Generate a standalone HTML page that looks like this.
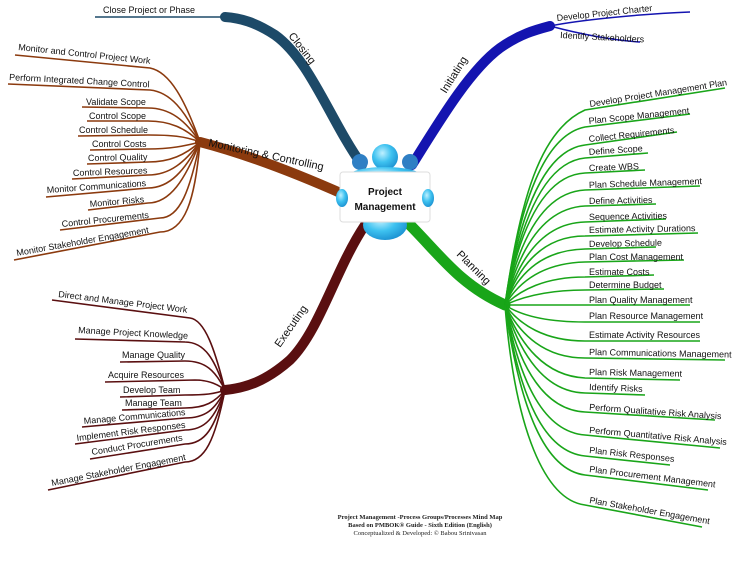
<!DOCTYPE html>
<html><head><meta charset="utf-8"><style>
html,body{margin:0;padding:0;background:#fff;}
svg{display:block;font-family:"Liberation Sans",sans-serif;}
.t{font-size:9px;fill:#111;}
.b{font-size:11px;fill:#111;}
</style></head><body>
<svg width="735" height="564" viewBox="0 0 735 564">
<defs>
<radialGradient id="g" cx="40%" cy="35%" r="70%"><stop offset="0" stop-color="#bff0ff"/><stop offset="0.5" stop-color="#3ec2f0"/><stop offset="1" stop-color="#1a8fd0"/></radialGradient>
</defs>
<path d="M362,165 C330,120 310,60 275,35 C255,22 240,18 225,17" stroke="#1d4a68" stroke-width="10" fill="none" stroke-linecap="round"/>
<path d="M225,17 L95,17" stroke="#1d4a68" stroke-width="1.5" fill="none"/>
<path d="M412,165 C440,120 470,70 500,48 C520,34 535,30 550,26" stroke="#1414b0" stroke-width="10" fill="none" stroke-linecap="round"/>
<path d="M550,26 C580,20 640,14 690,12" stroke="#1414b0" stroke-width="1.5" fill="none"/>
<path d="M550,26 C580,34 610,40 640,42" stroke="#1414b0" stroke-width="1.5" fill="none"/>
<path d="M345,195 C300,175 250,155 200,142" stroke="#8b3a0e" stroke-width="10" fill="none" stroke-linecap="round"/>
<path d="M365,225 C335,270 320,330 290,360 C265,382 245,388 225,390" stroke="#5a0f10" stroke-width="10" fill="none" stroke-linecap="round"/>
<path d="M410,225 C440,255 460,285 505,305" stroke="#19a519" stroke-width="11" fill="none" stroke-linecap="round"/>
<text class="b" transform="translate(288,36) rotate(52)">Closing</text>
<text class="b" transform="translate(446,94) rotate(-58)">Initiating</text>
<text class="b" transform="translate(208,146) rotate(12)">Monitoring &amp; Controlling</text>
<text class="b" transform="translate(280,348) rotate(-55)">Executing</text>
<text class="b" transform="translate(456,255) rotate(45)">Planning</text>
<text class="t" x="103" y="13">Close Project or Phase</text>
<text class="t" transform="translate(557,21) rotate(-6)">Develop Project Charter</text>
<text class="t" transform="translate(560,38) rotate(3)">Identify Stakeholders</text>
<g fill="none" stroke="#19a519" stroke-width="1.6">
<path d="M505,305 C520,200 540,130 585,110 L725,88"/>
<path d="M505,305 C520,200 545,135 585,127 L690,114"/>
<path d="M505,305 C520,210 545,150 585,145 L677,132"/>
<path d="M505,305 C520,220 545,162 585,158 L648,153"/>
<path d="M505,305 C520,225 545,175 585,173 L645,170"/>
<path d="M505,305 C520,235 545,192 585,190 L700,186"/>
<path d="M505,305 C520,245 545,208 585,206 L656,204"/>
<path d="M505,305 C520,255 545,223 585,222 L666,219"/>
<path d="M505,305 C520,262 545,236 585,236 L698,233"/>
<path d="M505,305 C520,270 545,250 585,249 L656,247"/>
<path d="M505,305 C520,280 545,263 585,262 L684,260"/>
<path d="M505,305 C520,290 545,277 585,277 L654,275"/>
<path d="M505,305 C520,298 545,290 585,290 L664,289"/>
<path d="M505,305 L690,305"/>
<path d="M505,305 C520,315 545,322 585,322 L700,322"/>
<path d="M505,305 C520,325 545,341 585,341 L700,341"/>
<path d="M505,305 C520,335 545,358 585,358 L725,360"/>
<path d="M505,305 C520,345 545,376 585,378 L680,380"/>
<path d="M505,305 C520,355 545,392 585,393 L645,395"/>
<path d="M505,305 C520,370 545,410 585,412 L715,420"/>
<path d="M505,305 C520,385 545,432 585,435 L720,448"/>
<path d="M505,305 C520,400 545,452 585,456 L670,465"/>
<path d="M505,305 C520,410 545,470 585,475 L708,490"/>
<path d="M505,305 C515,430 545,500 585,505 L702,527"/>
</g>
<g class="t">
<text transform="translate(590,107) rotate(-9)">Develop Project Management Plan</text>
<text transform="translate(589,124) rotate(-6)">Plan Scope Management</text>
<text transform="translate(589,142) rotate(-6)">Collect Requirements</text>
<text transform="translate(589,155) rotate(-4)">Define Scope</text>
<text transform="translate(589,171) rotate(-2)">Create WBS</text>
<text transform="translate(589,188) rotate(-2)">Plan Schedule Management</text>
<text transform="translate(589,204) rotate(-1)">Define Activities</text>
<text transform="translate(589,220) rotate(-1)">Sequence Activities</text>
<text transform="translate(589,233) rotate(-1)">Estimate Activity Durations</text>
<text transform="translate(589,247) rotate(-1)">Develop Schedule</text>
<text transform="translate(589,260)">Plan Cost Management</text>
<text transform="translate(589,275)">Estimate Costs</text>
<text transform="translate(589,288)">Determine Budget</text>
<text transform="translate(589,303)">Plan Quality Management</text>
<text transform="translate(589,319)">Plan Resource Management</text>
<text transform="translate(589,338)">Estimate Activity Resources</text>
<text transform="translate(589,355) rotate(1)">Plan Communications Management</text>
<text transform="translate(589,375) rotate(1)">Plan Risk Management</text>
<text transform="translate(589,390) rotate(2)">Identify Risks</text>
<text transform="translate(589,410) rotate(4)">Perform Qualitative Risk Analysis</text>
<text transform="translate(589,433) rotate(5)">Perform Quantitative Risk Analysis</text>
<text transform="translate(589,453) rotate(6)">Plan Risk Responses</text>
<text transform="translate(589,472) rotate(7)">Plan Procurement Management</text>
<text transform="translate(589,503) rotate(10)">Plan Stakeholder Engagement</text>
</g>
<g fill="none" stroke="#8b3a0e" stroke-width="1.6">
<path d="M200,142 C185,100 170,72 150,68 L15,55"/>
<path d="M200,142 C185,110 170,92 150,90 L8,84"/>
<path d="M200,142 C185,120 170,108 148,108 L82,107"/>
<path d="M200,142 C185,128 170,121 148,121 L87,121"/>
<path d="M200,142 C185,136 170,135 148,135 L78,136"/>
<path d="M200,142 C185,146 170,149 148,149 L90,150"/>
<path d="M200,142 C185,155 170,162 148,162 L87,164"/>
<path d="M200,142 C185,162 170,175 148,175 L72,179"/>
<path d="M200,142 C185,170 170,188 148,188 L46,197"/>
<path d="M200,142 C185,180 170,203 148,203 L88,210"/>
<path d="M200,142 C190,190 180,218 160,218 L60,230"/>
<path d="M200,142 C195,200 185,232 160,232 L14,260"/>
</g>
<g class="t">
<text transform="translate(18,50) rotate(6)">Monitor and Control Project Work</text>
<text transform="translate(9,80) rotate(3)">Perform Integrated Change Control</text>
<text x="86" y="105">Validate Scope</text>
<text x="89" y="119">Control Scope</text>
<text x="79" y="133">Control Schedule</text>
<text x="92" y="147">Control Costs</text>
<text transform="translate(88,161) rotate(-1)">Control Quality</text>
<text transform="translate(73,176) rotate(-2)">Control Resources</text>
<text transform="translate(47,193) rotate(-4)">Monitor Communications</text>
<text transform="translate(90,207) rotate(-5)">Monitor Risks</text>
<text transform="translate(62,227) rotate(-6)">Control Procurements</text>
<text transform="translate(17,256) rotate(-10)">Monitor Stakeholder Engagement</text>
</g>
<g fill="none" stroke="#5a0f10" stroke-width="1.6">
<path d="M225,390 C215,350 205,320 190,318 L52,300"/>
<path d="M225,390 C215,360 205,342 185,342 L75,339"/>
<path d="M225,390 C215,370 205,361 185,361 L120,362"/>
<path d="M225,390 C215,382 205,380 195,380 L105,382"/>
<path d="M225,390 C215,394 205,395 185,395 L120,397"/>
<path d="M225,390 C215,402 205,408 185,408 L122,410"/>
<path d="M225,390 C215,410 205,418 185,418 L82,427"/>
<path d="M225,390 C215,418 205,430 185,430 L75,444"/>
<path d="M225,390 C215,428 205,444 185,444 L90,459"/>
<path d="M225,390 C215,440 205,462 185,462 L48,490"/>
</g>
<g class="t">
<text transform="translate(58,297) rotate(7)">Direct and Manage Project Work</text>
<text transform="translate(78,333) rotate(3)">Manage Project Knowledge</text>
<text x="122" y="358">Manage Quality</text>
<text x="108" y="378">Acquire Resources</text>
<text x="123" y="393">Develop Team</text>
<text x="125" y="406">Manage Team</text>
<text transform="translate(84,424) rotate(-5)">Manage Communications</text>
<text transform="translate(77,441) rotate(-7)">Implement Risk Responses</text>
<text transform="translate(92,455) rotate(-9)">Conduct Procurements</text>
<text transform="translate(52,486) rotate(-11)">Manage Stakeholder Engagement</text>
</g>
<circle cx="385" cy="157" r="13" fill="url(#g)"/>
<circle cx="360" cy="162" r="8" fill="#2f7fc4"/>
<circle cx="410" cy="162" r="8" fill="#2f7fc4"/>
<ellipse cx="385" cy="225" rx="22" ry="15" fill="url(#g)"/>
<ellipse cx="385" cy="175" rx="35" ry="8" fill="url(#g)"/>
<rect x="340" y="172" width="90" height="50" rx="3" fill="#fff" stroke="#ddd"/>
<ellipse cx="342" cy="198" rx="6" ry="9" fill="url(#g)"/>
<ellipse cx="428" cy="198" rx="6" ry="9" fill="url(#g)"/>
<text x="385" y="195" text-anchor="middle" font-size="10" font-weight="bold" fill="#111">Project</text>
<text x="385" y="210" text-anchor="middle" font-size="10" font-weight="bold" fill="#111">Management</text>
<g font-family="'Liberation Serif',serif" font-size="6.5" fill="#222" text-anchor="middle">
<text x="420" y="519" font-weight="bold">Project Management -Process Groups/Processes Mind Map</text>
<text x="420" y="527" font-weight="bold">Based on PMBOK® Guide - Sixth Edition (English)</text>
<text x="420" y="535">Conceptualized &amp; Developed: © Babou Srinivasan</text>
</g>
</svg>
</body></html>
